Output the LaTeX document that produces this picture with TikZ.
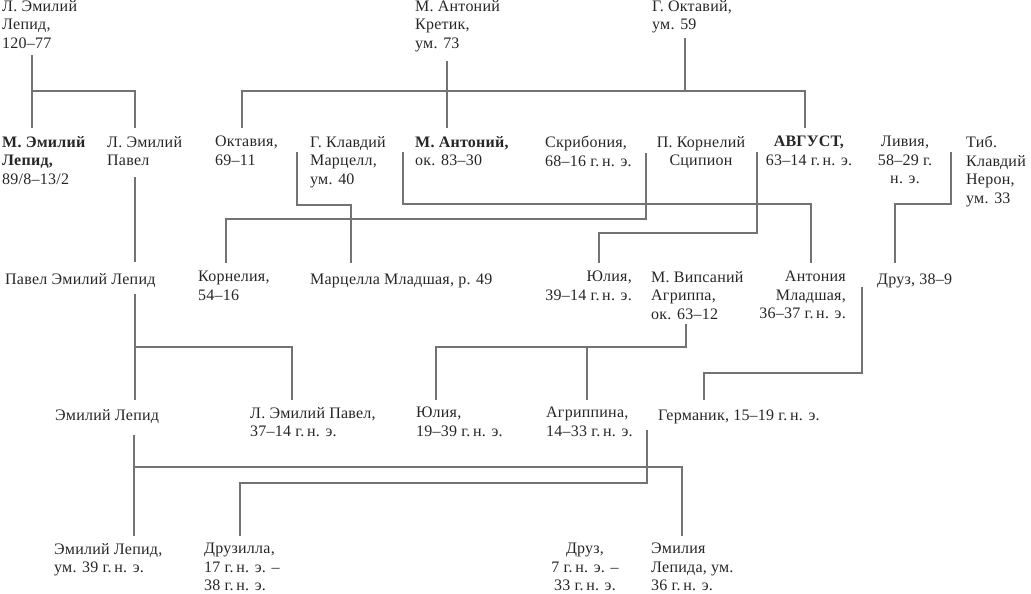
\documentclass[tikz,border=0pt]{standalone}
\usepackage{fontspec}
\setmainfont[LetterSpace=1.5]{Liberation Serif}
\usepackage{tikz}
\tikzstyle{person} = [inner sep=0pt, anchor=north west, align=left, text=black!85, font=\fontsize{16}{18.5}\selectfont, execute at begin node=\strut]
\tikzstyle{personc} = [person, anchor=north, align=center]
\tikzstyle{personr} = [person, anchor=north east, align=right]
\tikzstyle{line} = [draw=black!55, line width=1.1pt]

\begin{document}
\begin{tikzpicture}[x=1pt, y=-1pt]
\useasboundingbox (0,0) rectangle (1031,594);
\node (lepA) [person] at (2,0) {Л. Эмилий\\Лепид,\\120–77};
\node (antCr) [person] at (415,0) {М. Антоний\\Кретик,\\ум. 73};
\node (octav) [person] at (652,0) {Г. Октавий,\\ум. 59};

\node (lepM) [person] at (2,136) {\textbf{М. Эмилий}\\\textbf{Лепид,}\\89/8–13/2};
\node (paulL) [person] at (107,136) {Л. Эмилий\\Павел};
\node (octavia) [person] at (215,136) {Октавия,\\69–11};
\node (marc) [person] at (310,136) {Г. Клавдий\\Марцелл,\\ум. 40};
\node (ant) [person] at (415,136) {\textbf{М. Антоний,}\\ок. 83–30};
\node (scrib) [person] at (545,136) {Скрибония,\\68–16 г.\,н. э.};
\node (scip) [personc] at (701,136) {П. Корнелий\\Сципион};
\node (aug) [personc] at (809,136) {\textbf{АВГУСТ,}\\63–14 г.\,н. э.};
\node (liv) [personc] at (905,136) {Ливия,\\58–29 г.\\н. э.};
\node (nero) [person] at (966,136) {Тиб.\\Клавдий\\Нерон,\\ум. 33};

\node (paulLep) [person] at (5,271) {Павел Эмилий Лепид};
\node (corn) [person] at (198,271) {Корнелия,\\54–16};
\node (marcella) [person] at (310,271) {Марцелла Младшая, р. 49};
\node (iulA) [personr] at (632,271) {Юлия,\\39–14 г.\,н. э.};
\node (agr) [person] at (651,271) {М. Випсаний\\Агриппа,\\ок. 63–12};
\node (antonia) [personr] at (846,271) {Антония\\Младшая,\\36–37 г.\,н. э.};
\node (drus) [person] at (877,271) {Друз, 38–9};

\node (lepE) [person] at (55,407) {Эмилий Лепид};
\node (paulE) [person] at (250,407) {Л. Эмилий Павел,\\37–14 г.\,н. э.};
\node (iulB) [person] at (416,407) {Юлия,\\19–39 г.\,н. э.};
\node (agrip) [person] at (546,407) {Агриппина,\\14–33 г.\,н. э.};
\node (germ) [person] at (658,407) {Германик, 15–19 г.\,н. э.};

\node (lepF) [person] at (54,543) {Эмилий Лепид,\\ум. 39 г.\,н. э.};
\node (drusilla) [person] at (204,543) {Друзилла,\\17 г.\,н. э. –\\38 г.\,н. э.};
\node (drusB) [personc] at (585,543) {Друз,\\7 г.\,н. э. –\\33 г.\,н. э.};
\node (aemil) [person] at (651,543) {Эмилия\\Лепида, ум.\\36 г.\,н. э.};

% first generation
\draw [line] ([shift={(30,55)}]lepA.north west) -- ([shift={(30,-8)}]lepM.north west);
\draw [line] ([shift={(30,91)}]lepA.north west) -| ([shift={(28,-8)}]paulL.north west);
\draw [line] ([shift={(32,61)}]antCr.north west) -- ([shift={(32,-8)}]ant.north west);
\draw [line] ([shift={(33,38)}]octav.north west) -- ++(0,53);
\draw [line] ([shift={(27,-8)}]octavia.north west) |- ([shift={(-4,-45)}]aug.north) -- ([shift={(-4,-8)}]aug.north);

% second generation
\draw [line] ([shift={(-13,16)}]marc.north west) |- ([shift={(41,-66)}]marcella.north west) -- ([shift={(41,-8)}]marcella.north west);
\draw [line] ([shift={(-12,16)}]ant.north west) |- ([shift={(-35,-67)}]antonia.north east) -- ([shift={(-35,-8)}]antonia.north east);
\draw [line] ([shift={(101,17)}]scrib.north west) |- ([shift={(28,-52)}]corn.north west) -- ([shift={(28,-8)}]corn.north west);
\draw [line] ([shift={(-52,16)}]aug.north) |- ([shift={(-33,-38)}]iulA.north east) -- ([shift={(-33,-8)}]iulA.north east);
\draw [line] ([shift={(46,16)}]liv.north) |- ([shift={(18,-67)}]drus.north west) -- ([shift={(18,-8)}]drus.north west);
\draw [line] ([shift={(28,41)}]paulL.north west) -- ([shift={(130,-9)}]paulLep.north west);

% third generation
\draw [line] ([shift={(130,23)}]paulLep.north west) -- ([shift={(80,-7)}]lepE.north west);
\draw [line] ([shift={(130,76)}]paulLep.north west) -| ([shift={(42,-7)}]paulE.north west);
\draw [line] ([shift={(35,53)}]agr.north west) |- ([shift={(20,-60)}]iulB.north west) -- ([shift={(20,-7)}]iulB.north west);
\draw [line] ([shift={(41,-60)}]agrip.north west) -- ([shift={(41,-7)}]agrip.north west);
\draw [line] ([shift={(16,16)}]antonia.north east) |- ([shift={(46,-34)}]germ.north west) -- ([shift={(46,-7)}]germ.north west);

% fourth generation
\draw [line] ([shift={(79,28)}]lepE.north west) -- ([shift={(80,-7)}]lepF.north west);
\draw [line] ([shift={(79,60)}]lepE.north west) -| ([shift={(31,-7)}]aemil.north west);
\draw [line] ([shift={(101,23)}]agrip.north west) |- ([shift={(36,-60)}]drusilla.north west) -- ([shift={(36,-7)}]drusilla.north west);
\end{tikzpicture}
\end{document}
